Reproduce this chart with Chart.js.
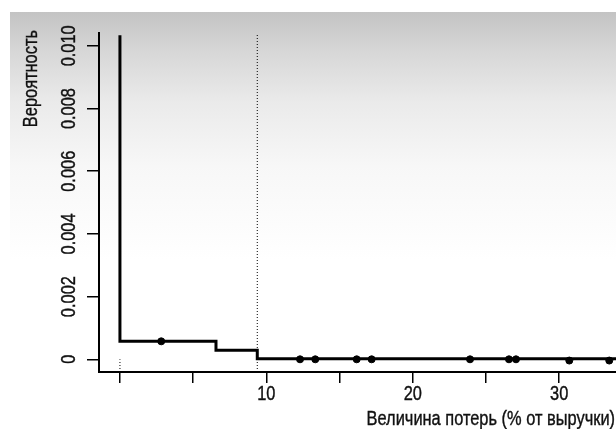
<!DOCTYPE html>
<html>
<head>
<meta charset="utf-8">
<script src="https://cdn.jsdelivr.net/npm/chart.js@4"></script>
<style>
  html, body { margin: 0; padding: 0; background: #fff; }
  canvas { display: block; }
</style>
</head>
<body>
<canvas id="chart" width="616" height="429"></canvas>
<script>
// step curve: x where each level starts, and the level
var stepX = [0, 0, 6.56, 9.38, 33.9];
var stepY = [0.01029, 0.000574, 0.000287, 0.00002, 0.00002];

// observed losses (dots)
var pointX = [2.82, 12.3, 13.34, 16.17, 17.19, 23.91, 26.57, 27.05, 30.69, 33.42];
var pointY = [0.000574, 0, 0, 0, 0, 0, 0, 0, -0.00004, -0.00004];

// dotted markers
var markX = [0, 9.38];
var markTop = [0, 0.0104];

var xRange = [-1.43, 33.88];
var yRange = [-0.000405, 0.01041];
var xTicks = [0, 5, 10, 15, 20, 25, 30];
var xLabels = ["", "", "10", "", "20", "", "30"];
var yTicks = [0, 0.002, 0.004, 0.006, 0.008, 0.010];
var yLabels = ["0", "0.002", "0.004", "0.006", "0.008", "0.010"];

var xTitle = "Величина потерь (% от выручки)";
var yTitle = "Вероятность";

// condensed look: Liberation Sans squeezed sideways
var FONT = "20.5px 'Liberation Sans', Arial, sans-serif";
var SQUEEZE = 0.8;

function narrowText(ctx, text, x, y, rot, align) {
  ctx.save();
  ctx.translate(x, y);
  ctx.rotate(rot);
  ctx.scale(SQUEEZE, 1);
  ctx.textAlign = align;
  ctx.textBaseline = "alphabetic";
  ctx.fillText(text, 0, 0);
  ctx.strokeText(text, 0, 0); // a bit heavier, like the original
  ctx.restore();
}

function initialize() {
  var bgPlugin = {
    id: "bg",
    beforeDraw: function (chart) {
      var ctx = chart.ctx;
      ctx.save();
      ctx.fillStyle = "#fff";
      ctx.fillRect(0, 0, chart.width, chart.height);
      var g = ctx.createLinearGradient(0, 12, 0, 260);
      g.addColorStop(0, "#c3c3c3");
      g.addColorStop(0.15, "#d6d6d6");
      g.addColorStop(0.36, "#eaeaea");
      g.addColorStop(0.62, "#f7f7f7");
      g.addColorStop(1, "#ffffff");
      ctx.fillStyle = g;
      ctx.fillRect(10, 12, chart.width - 10, 248);
      ctx.restore();
    },
  };

  // tick labels and titles, placed from the chart's own scales
  var textPlugin = {
    id: "texts",
    afterDraw: function (chart) {
      var ctx = chart.ctx;
      var xs = chart.scales.x;
      var ys = chart.scales.y;
      ctx.save();
      ctx.font = FONT;
      ctx.fillStyle = "#111";
      ctx.strokeStyle = "#111";
      ctx.lineWidth = 0.4;
      xTicks.forEach(function (v, i) {
        narrowText(ctx, xLabels[i], xs.getPixelForValue(v), xs.top + 28, 0, "center");
      });
      yTicks.forEach(function (v, i) {
        narrowText(ctx, yLabels[i], ys.right - 24, ys.getPixelForValue(v), -Math.PI / 2, "center");
      });
      narrowText(ctx, xTitle, xs.right - 1, xs.top + 53, 0, "right");
      narrowText(ctx, yTitle, 37, ys.top - 3, -Math.PI / 2, "right");
      ctx.restore();
    },
  };

  var steps = stepX.map(function (x, i) { return { x: x, y: stepY[i] }; });
  var dots = pointX.map(function (x, i) { return { x: x, y: pointY[i] }; });

  var datasets = [
    {
      type: "line",
      data: [{ x: markX[0], y: yRange[0] }, { x: markX[0], y: markTop[0] }],
      borderColor: "#000",
      borderWidth: 1,
      borderDash: [1, 2],
      pointRadius: 0,
    },
    {
      type: "line",
      data: [{ x: markX[1], y: yRange[0] }, { x: markX[1], y: markTop[1] }],
      borderColor: "#000",
      borderWidth: 1,
      borderDash: [1, 2],
      pointRadius: 0,
    },
    {
      type: "line",
      data: steps,
      stepped: "before",
      borderColor: "#000",
      borderWidth: 3,
      pointRadius: 0,
      borderCapStyle: "square",
    },
    {
      type: "scatter",
      data: dots,
      backgroundColor: "#000",
      borderColor: "#000",
      pointRadius: 3.5,
    },
  ];

  new Chart(document.getElementById("chart"), {
    type: "scatter",
    data: { datasets: datasets },
    options: {
      responsive: false,
      animation: false,
      devicePixelRatio: 1,
      layout: { autoPadding: false, padding: { top: 33, right: 0, bottom: 0, left: 0 } },
      plugins: { legend: { display: false }, tooltip: { enabled: false } },
      scales: {
        x: {
          type: "linear",
          min: xRange[0],
          max: xRange[1],
          afterBuildTicks: function (scale) {
            scale.ticks = xTicks.map(function (v) { return { value: v }; });
          },
          afterFit: function (scale) { scale.height = 57; },
          grid: { drawOnChartArea: false, tickLength: 11, lineWidth: 1.5, color: "#000" },
          border: { display: true, width: 2, color: "#000" },
          ticks: { display: false },
        },
        y: {
          type: "linear",
          min: yRange[0],
          max: yRange[1],
          afterBuildTicks: function (scale) {
            scale.ticks = yTicks.map(function (v) { return { value: v }; });
          },
          afterFit: function (scale) { scale.width = 99; },
          grid: { drawOnChartArea: false, tickLength: 12, lineWidth: 1.5, color: "#000" },
          border: { display: true, width: 2, color: "#000" },
          ticks: { display: false },
        },
      },
    },
    plugins: [bgPlugin, textPlugin],
  });
}

initialize();
</script>
</body>
</html>
